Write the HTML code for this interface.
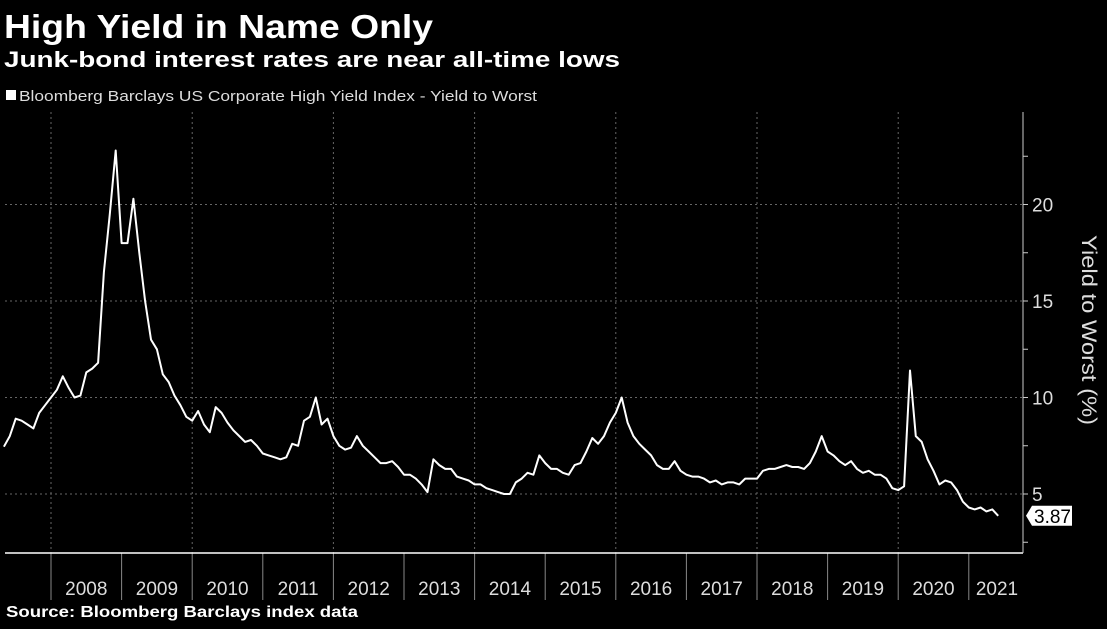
<!DOCTYPE html>
<html><head><meta charset="utf-8">
<style>
body{margin:0;background:#000;width:1107px;height:624px;overflow:hidden;font-family:"Liberation Sans","DejaVu Sans",sans-serif;color:#fff}
</style></head>
<body>
<svg width="1107" height="624">
<text x="4" y="38" font-size="33" font-weight="bold" fill="#fff" textLength="429" lengthAdjust="spacingAndGlyphs">High Yield in Name Only</text>
<text x="4" y="67" font-size="22" font-weight="bold" fill="#fff" textLength="616" lengthAdjust="spacingAndGlyphs">Junk-bond interest rates are near all-time lows</text>
<rect x="6" y="90" width="10" height="10" fill="#fff"/>
<text x="19" y="101" font-size="15" fill="#ddd" textLength="518" lengthAdjust="spacingAndGlyphs">Bloomberg Barclays US Corporate High Yield Index - Yield to Worst</text>
<g id="grid"></g>
<g id="axes"></g>
<path id="line" fill="none" stroke="#fff" stroke-width="2" stroke-linejoin="round"/>
<g id="lastlabel"></g>
<text transform="translate(1082,330) rotate(90)" text-anchor="middle" font-size="21" fill="#ddd" textLength="190" lengthAdjust="spacingAndGlyphs">Yield to Worst (%)</text>
<text x="6" y="617" font-size="16" font-weight="bold" fill="#fff" textLength="352" lengthAdjust="spacingAndGlyphs">Source: Bloomberg Barclays index data</text>
</svg>
<script>
const startYear = 2007 + 4/12;
const years = [2008,2009,2010,2011,2012,2013,2014,2015,2016,2017,2018,2019,2020,2021];
const yTicks = [5,10,15,20];
const yields = [
7.45,8.0,8.9,8.8,8.6,8.4,9.2,9.6,
10.0,10.4,11.1,10.5,10.0,10.1,11.3,11.5,11.8,16.5,19.5,22.8,
18.0,18.0,20.3,17.5,15.0,13.0,12.5,11.2,10.8,10.1,9.6,9.0,
8.8,9.3,8.6,8.2,9.5,9.2,8.7,8.3,8.0,7.7,7.8,7.5,
7.1,7.0,6.9,6.8,6.9,7.6,7.5,8.8,9.0,10.0,8.6,8.9,
8.0,7.5,7.3,7.4,8.0,7.5,7.2,6.9,6.6,6.6,6.7,6.4,
6.0,6.0,5.8,5.5,5.1,6.8,6.5,6.3,6.3,5.9,5.8,5.7,
5.5,5.5,5.3,5.2,5.1,5.0,5.0,5.6,5.8,6.1,6.0,7.0,
6.6,6.3,6.3,6.1,6.0,6.5,6.6,7.2,7.9,7.6,8.0,8.7,
9.2,10.0,8.7,8.0,7.6,7.3,7.0,6.5,6.3,6.3,6.7,6.2,
6.0,5.9,5.9,5.8,5.6,5.7,5.5,5.6,5.6,5.5,5.8,5.8,
5.8,6.2,6.3,6.3,6.4,6.5,6.4,6.4,6.3,6.6,7.2,8.0,
7.2,7.0,6.7,6.5,6.7,6.3,6.1,6.2,6.0,6.0,5.8,5.3,
5.2,5.4,11.4,8.0,7.7,6.8,6.2,5.5,5.7,5.6,5.2,4.6,
4.3,4.2,4.3,4.1,4.2,3.87];
const lastLabel = "3.87";
const NS="http://www.w3.org/2000/svg";
const x = t => 51 + (t-2008)*70.6;
const y = v => 494 - (v-5)*19.3;
const L=5, R=1023, T=112, B=553;
function mk(tag, attrs, parent){const e=document.createElementNS(NS,tag);for(const k in attrs)e.setAttribute(k,attrs[k]);parent.appendChild(e);return e;}
const grid=document.getElementById('grid'), axes=document.getElementById('axes');
yTicks.forEach(v=>{
  const g=mk('line',{x1:L,x2:R,y1:y(v),y2:y(v),stroke:'#666','stroke-dasharray':'2,3','stroke-width':1},grid);
  
  
  const t=mk('text',{x:R+9,y:y(v)+7,'font-size':19,fill:'#ddd'},axes);
  t.textContent=v;
  
  
});
for(let v=2.5; v<=22.5; v+=2.5){ if(y(v)>T&&y(v)<B) mk('line',{x1:R,x2:R+5,y1:y(v),y2:y(v),stroke:'#ccc'},axes); }
years.forEach((yr,i)=>{
  const xx=x(yr);
  if(yr%2===0){const g=mk('line',{x1:xx,x2:xx,y1:T,y2:B,stroke:'#666','stroke-dasharray':'2,3'},grid);
    
    }
  mk('line',{x1:xx,x2:xx,y1:B,y2:600,stroke:'#888'},axes);
  const t=mk('text',{x:Math.min(xx+35.3,997),y:595,'font-size':19,fill:'#ddd','text-anchor':'middle'},axes);
  t.textContent=yr;
  
  
});
mk('line',{x1:L,x2:R,y1:B,y2:B,stroke:'#fff','stroke-width':1.5},axes);
mk('line',{x1:R,x2:R,y1:T,y2:B,stroke:'#ccc'},axes);
let d='';
yields.forEach((v,i)=>{d+=(i?'L':'M')+x(startYear+i/12).toFixed(1)+','+y(v).toFixed(1);});
document.getElementById('line').setAttribute('d',d);
const lv=yields[yields.length-1], ly=y(lv), lg=document.getElementById('lastlabel');
mk('path',{d:`M1026,${ly} L1032,${ly-10} L1072,${ly-10} L1072,${ly+10} L1032,${ly+10} Z`,fill:'#fff'},lg);
const lt=mk('text',{x:1034,y:ly+7,'font-size':19,fill:'#000'},lg);
lt.textContent=lastLabel;


</script>
</body></html>
